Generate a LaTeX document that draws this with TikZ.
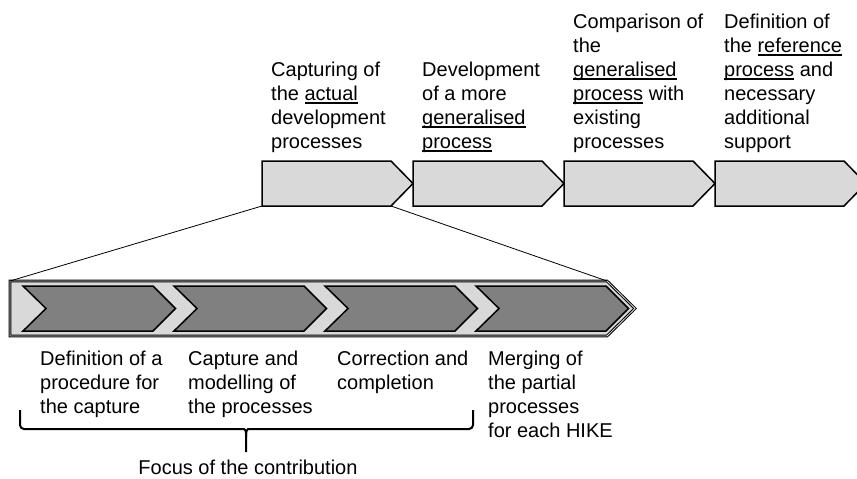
\documentclass[tikz,border=0pt]{standalone}
\usepackage{fontspec}
\setmainfont{Liberation Sans}

\definecolor{boxgray}{HTML}{D9D9D9}
\definecolor{stepgray}{HTML}{808080}

% underline a single word at a fixed depth below the baseline
\newcommand{\ulword}[1]{\setbox0=\hbox{#1}\rlap{\rule[-3.4pt]{\wd0}{1.2pt}}\box0\relax}

\begin{document}
\begin{tikzpicture}[x=1pt,y=-1pt,
  lbl/.style={align=left, inner sep=0pt, anchor=north west, font=\fontsize{20}{24}\selectfont},
  phase/.style={draw=black, line width=1.5pt, fill=boxgray},
  substep/.style={draw=black, line width=1.5pt, fill=stepgray},
]
  \useasboundingbox (0,0) rectangle (857,479);
  \clip (0,0) rectangle (857,479);

  % Four phases along the top (the last one runs off the edge)
  \foreach \xa in {262, 413, 564, 715}{
    \draw[phase] (\xa,161) -- ++(129,0) -- ++(22,22.5) -- ++(-22,22.5) -- ++(-129,0) -- cycle;
  }
  \coordinate (capsw) at (262,206);
  \coordinate (capse) at (391,206);

  % Enlarged first phase with its four sub-steps
  \draw[draw=black, line width=1pt, double=boxgray, double distance=0.8pt, fill=boxgray]
    (10,281) -- (607,281) -- (635,308.5) -- (607,336) -- (10,336) -- cycle;
  \coordinate (barnw) at (10,281);
  \coordinate (barne) at (607,281);

  \foreach \xa in {23, 174, 325, 476}{
    \draw[substep] (\xa,286) -- ++(130,0) -- ++(22.5,22.5) -- ++(-22.5,22.5)
      -- ++(-130,0) -- ++(23,-22.5) -- cycle;
  }

  % zoom lines
  \draw[line width=0.8pt] (capsw) -- (barnw);
  \draw[line width=0.8pt] (capse) -- (barne);

  % Phase labels
  \node[lbl] (phase1) at (271,61.5) {Capturing of\\the \ulword{actual}\\development\\processes};
  \node[lbl] (phase2) at (422,61.5) {Development\\of a more\\\ulword{generalised}\\\ulword{process}};
  \node[lbl] (phase3) at (573,13.5) {Comparison of\\the\\\ulword{generalised}\\\ulword{process} with\\existing\\processes};
  \node[lbl] (phase4) at (724,13.5) {Definition of\\the \ulword{reference}\\\ulword{process} and\\necessary\\additional\\support};

  % Sub-step labels
  \node[lbl] (step1) at (40,350.5) {Definition of a\\procedure for\\the capture};
  \node[lbl] (step2) at (188,350.5) {Capture and\\modelling of\\the processes};
  \node[lbl] (step3) at (337,350.5) {Correction and\\completion};
  \node[lbl] (step4) at (488,350.5) {Merging of\\the partial\\processes\\for each HIKE};

  % Brace over the first three sub-steps
  \coordinate (bracetip) at (246,452);
  \draw[line width=2pt, rounded corners=4pt] (20,410) |- (240,429)
    .. controls (245,429) and (246,431) .. (246,437) -- (bracetip);
  \draw[line width=2pt, rounded corners=4pt] (473,410) |- (252,429)
    .. controls (247,429) and (246,431) .. (246,437);
  \node[anchor=base, inner sep=0pt, font=\fontsize{20}{24}\selectfont] (focus) at (248,474)
    {Focus of the contribution};

\end{tikzpicture}
\end{document}
